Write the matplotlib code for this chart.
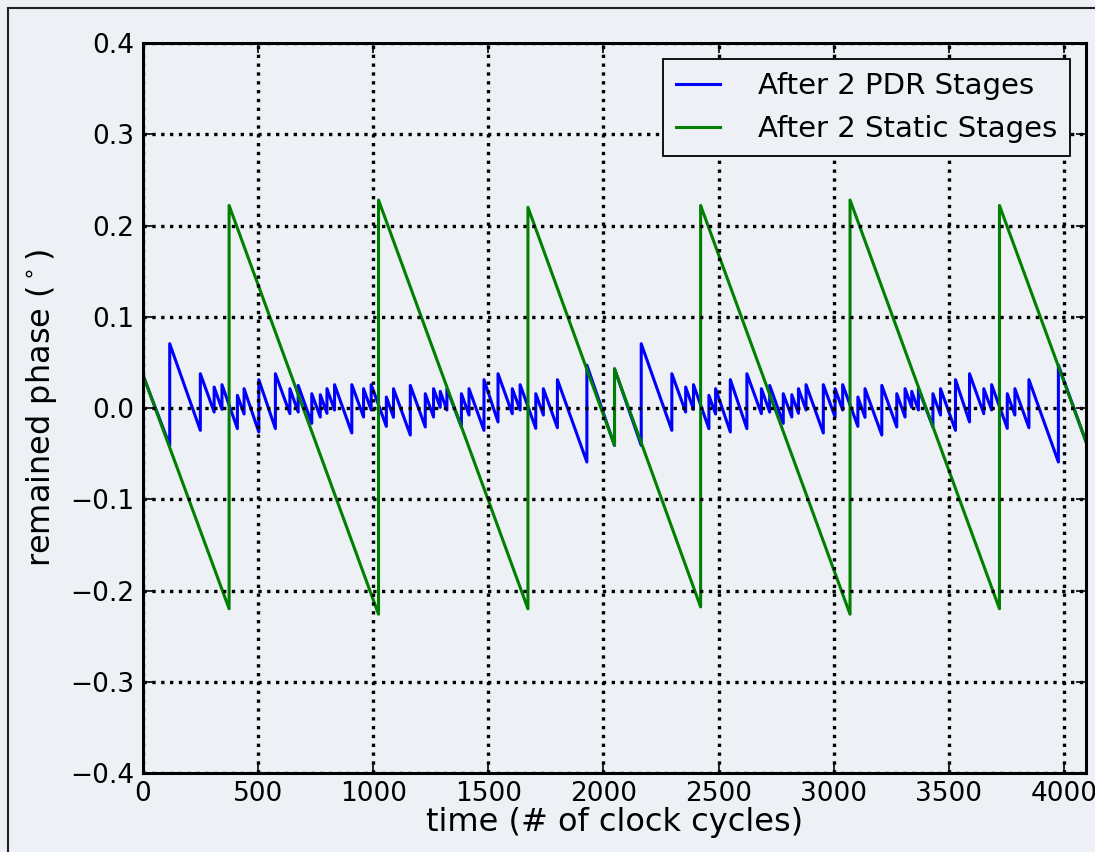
import matplotlib
matplotlib.use("Agg")
import matplotlib.pyplot as plt
from matplotlib.lines import Line2D

# ---------------- data ----------------
x_ticks = [0, 500, 1000, 1500, 2000, 2500, 3000, 3500, 4000]
y_ticks = [-0.4, -0.3, -0.2, -0.1, 0.0, 0.1, 0.2, 0.3, 0.4]

# Green: "After 2 Static Stages" sawtooth (vertices)
green_x = [0, 374, 374, 1023, 1023, 1672, 1672, 2048, 2048, 2422, 2422,
           3071, 3071, 3720, 3720, 4096]
green_y = [0.036, -0.220, 0.222, -0.226, 0.228, -0.220, 0.220, -0.041, 0.043,
           -0.218, 0.222, -0.226, 0.228, -0.220, 0.222, -0.037]

# Blue: "After 2 PDR Stages" sawtooth, described by its jumps
blue_start = (0, 0.036)
blue_end = (4096, -0.037)
blue_t = [116, 249, 309, 343, 410, 439, 503, 575, 638, 674, 733, 770, 799, 832,
          907, 958, 991, 1057, 1088, 1161, 1226, 1262, 1291, 1320, 1383, 1416,
          1481, 1542, 1604, 1638, 1706, 1739, 1800, 1928, 2048,
          2164, 2297, 2357, 2391, 2458, 2487, 2551, 2623, 2686, 2722, 2781,
          2818, 2847, 2880, 2955, 3006, 3039, 3105, 3136, 3209, 3274, 3310,
          3339, 3368, 3431, 3464, 3529, 3590, 3652, 3686, 3754, 3787, 3848,
          3976]
blue_before = [-0.041, -0.0245, -0.0044, -0.0015, -0.0226, -0.0066, -0.0263,
               -0.0226, -0.0062, -0.0044, -0.0168, -0.0099, -0.0058, -0.0022,
               -0.0274, -0.0099, -0.0022, -0.0201, -0.0102, -0.0296, -0.0208,
               -0.0099, 0.0007, -0.0022, -0.0208, -0.0077, -0.0245, -0.0153,
               -0.0062, -0.0022, -0.0223, -0.0077, -0.0216, -0.0592, -0.041,
               -0.041, -0.0245, -0.0044, -0.0015, -0.0226, -0.0066, -0.0263,
               -0.0226, -0.0062, -0.0044, -0.0168, -0.0099, -0.0058, -0.0022,
               -0.0274, -0.0099, -0.0022, -0.0201, -0.0102, -0.0296, -0.0208,
               -0.0099, 0.0007, -0.0022, -0.0208, -0.0077, -0.0245, -0.0153,
               -0.0062, -0.0022, -0.0223, -0.0077, -0.0216, -0.0592]
blue_after = [0.0705, 0.0376, 0.0230, 0.0256, 0.0139, 0.0212, 0.0311, 0.0376,
              0.0212, 0.0248, 0.0157, 0.0146, 0.0212, 0.0256, 0.0256, 0.0212,
              0.0256, 0.0121, 0.0212, 0.0248, 0.0157, 0.0212, 0.0183, 0.0212,
              0.0157, 0.0212, 0.0311, 0.0376, 0.0212, 0.0256, 0.0157, 0.0212,
              0.0311, 0.047, 0.043,
              0.0705, 0.0376, 0.0230, 0.0256, 0.0139, 0.0212, 0.0311, 0.0376,
              0.0212, 0.0248, 0.0157, 0.0146, 0.0212, 0.0256, 0.0256, 0.0212,
              0.0256, 0.0121, 0.0212, 0.0248, 0.0157, 0.0212, 0.0183, 0.0212,
              0.0157, 0.0212, 0.0311, 0.0376, 0.0212, 0.0256, 0.0157, 0.0212,
              0.0311, 0.047]

labels = ["After 2 PDR Stages", "After 2 Static Stages"]

# ---------------- build blue polyline from jump table ----------------
blue_x = [blue_start[0]]
blue_y = [blue_start[1]]
for t, lo, hi in zip(blue_t, blue_before, blue_after):
    blue_x += [t, t]
    blue_y += [lo, hi]
blue_x.append(blue_end[0])
blue_y.append(blue_end[1])

# ---------------- figure ----------------
BG = "#edf1f5"
fig = plt.figure(figsize=(10.95, 8.52), dpi=100, facecolor=BG)
ax = fig.add_axes([0.1306, 0.0927, 0.8612, 0.8568])
ax.set_facecolor(BG)

ax.plot(blue_x, blue_y, color="#0000ff", lw=2.2, label=labels[0])
ax.plot(green_x, green_y, color="#008000", lw=2.2, label=labels[1])

ax.set_xlim(0, 4096)
ax.set_ylim(-0.4, 0.4)
ax.set_xticks(x_ticks)
ax.set_yticks(y_ticks)
ax.set_xticklabels([str(v) for v in x_ticks])
ax.set_yticklabels([("\u2212%.1f" % abs(v)) if v < 0 else "%.1f" % v for v in y_ticks])

ax.tick_params(direction="in", length=7, width=1.2, top=True, right=True,
               labelsize=19, pad=6)
for s in ax.spines.values():
    s.set_linewidth(2.2)
    s.set_color("black")

ax.grid(True, color="black", linestyle=":", linewidth=2.4)
ax.set_axisbelow(False)

ax.set_xlabel("time (# of clock cycles)", fontsize=23, labelpad=0)
ax.set_ylabel(r"remained phase ($^\circ$)", fontsize=23, labelpad=8)

leg = ax.legend(loc="upper right", fontsize=21, fancybox=False, framealpha=1,
                handlelength=1.5, handletextpad=1.3, labelspacing=0.5,
                borderpad=0.45, borderaxespad=0.55)
leg.get_frame().set_edgecolor("black")
leg.get_frame().set_linewidth(1.3)
leg.get_frame().set_facecolor(BG)

# outer frame lines of the screenshot
fig.add_artist(Line2D([0.007, 1.0], [0.991, 0.991], transform=fig.transFigure,
                      color="#222222", lw=1.5))
fig.add_artist(Line2D([0.007, 0.007], [0.0, 0.991], transform=fig.transFigure,
                      color="#222222", lw=1.5))

fig.savefig("out.png", dpi=100, facecolor=BG)
